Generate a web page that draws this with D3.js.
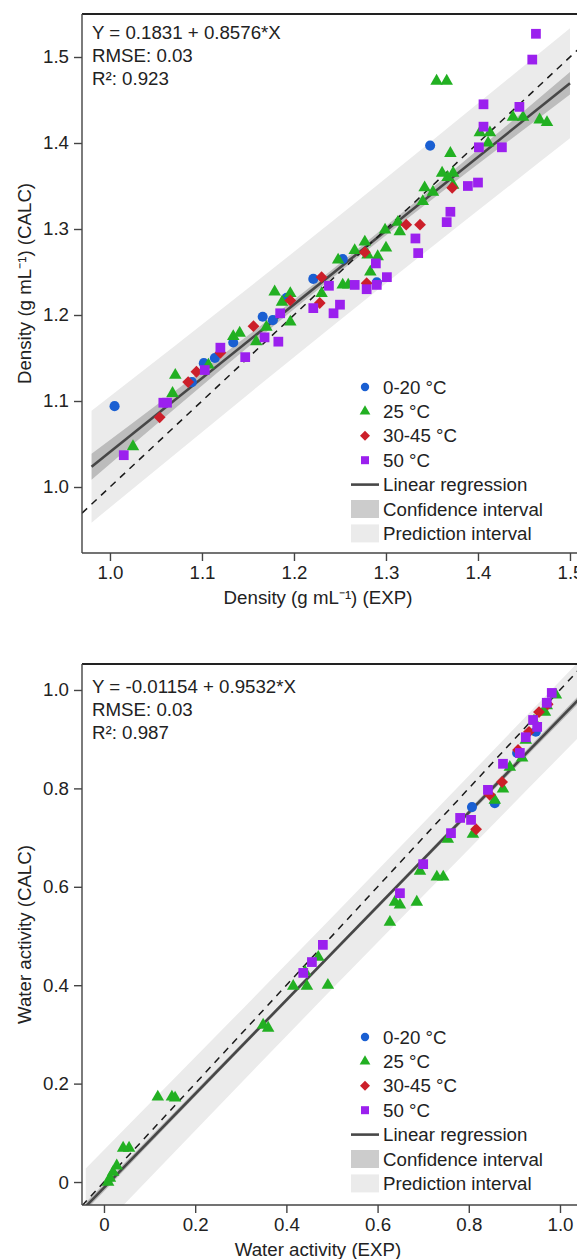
<!DOCTYPE html>
<html>
<head>
<meta charset="utf-8">
<script src="https://cdn.jsdelivr.net/npm/d3@7"></script>
<style>
body { margin: 0; background: #fff; }
svg { display: block; font-family: Arial, "Liberation Sans", Helvetica, sans-serif; }
</style>
</head>
<body>
<svg width="577" height="1259"></svg>
<script>
// ---- density panel (EXP, CALC) ----
var densCold = [[1.005,1.094],[1.089,1.122],[1.102,1.144],[1.114,1.150],[1.134,1.168],[1.166,1.198],[1.177,1.194],[1.192,1.220],[1.221,1.242],[1.253,1.265],[1.290,1.238],[1.348,1.397]];
var dens25 = [[1.025,1.047],[1.068,1.109],[1.071,1.130],[1.107,1.142],[1.134,1.175],[1.141,1.179],[1.159,1.169],[1.170,1.186],[1.179,1.227],[1.187,1.215],[1.196,1.225],[1.196,1.192],[1.230,1.225],[1.248,1.264],[1.253,1.235],[1.259,1.235],[1.266,1.275],[1.277,1.285],[1.280,1.270],[1.283,1.250],[1.291,1.268],[1.299,1.299],[1.300,1.278],[1.313,1.308],[1.315,1.297],[1.340,1.332],[1.342,1.348],[1.351,1.343],[1.361,1.365],[1.367,1.360],[1.373,1.351],[1.370,1.388],[1.373,1.365],[1.355,1.472],[1.366,1.472],[1.402,1.412],[1.411,1.400],[1.413,1.412],[1.438,1.430],[1.449,1.430],[1.467,1.427],[1.475,1.424]];
var dens30 = [[1.054,1.081],[1.085,1.122],[1.094,1.134],[1.120,1.156],[1.156,1.187],[1.196,1.217],[1.228,1.214],[1.230,1.244],[1.277,1.273],[1.279,1.237],[1.322,1.305],[1.337,1.305],[1.372,1.348]];
var dens50 = [[1.015,1.037],[1.058,1.098],[1.062,1.098],[1.103,1.136],[1.120,1.162],[1.147,1.151],[1.168,1.174],[1.183,1.169],[1.185,1.202],[1.221,1.208],[1.238,1.234],[1.243,1.202],[1.250,1.212],[1.266,1.235],[1.279,1.230],[1.289,1.260],[1.290,1.235],[1.301,1.244],[1.332,1.289],[1.335,1.272],[1.366,1.308],[1.370,1.320],[1.389,1.350],[1.400,1.354],[1.401,1.395],[1.406,1.419],[1.406,1.445],[1.426,1.395],[1.445,1.442],[1.459,1.497],[1.463,1.527]];
var densFit = [0.1831, 0.8576];
var densBandX = [0.98, 1.24, 1.50];
var densCIHalf = [0.015, 0.005, 0.013];
var densPIHalf = [0.065, 0.061, 0.064];
var densTicks = [1.0, 1.1, 1.2, 1.3, 1.4, 1.5];
var densText = ["Y = 0.1831 + 0.8576*X", "RMSE: 0.03", "R\u00b2: 0.923"];

// ---- water activity panel ----
var awCold = [[0.807,0.762],[0.857,0.770],[0.906,0.872],[0.947,0.915]];
var aw25 = [[0.009,0.000],[0.013,0.008],[0.020,0.020],[0.028,0.033],[0.042,0.069],[0.055,0.069],[0.118,0.173],[0.149,0.173],[0.156,0.171],[0.349,0.319],[0.360,0.313],[0.415,0.398],[0.441,0.427],[0.445,0.398],[0.470,0.457],[0.491,0.400],[0.627,0.528],[0.638,0.569],[0.649,0.563],[0.686,0.569],[0.693,0.632],[0.730,0.620],[0.744,0.620],[0.754,0.697],[0.809,0.707],[0.857,0.776],[0.875,0.799],[0.890,0.843],[0.917,0.862],[0.925,0.898],[0.943,0.937],[0.967,0.955],[0.971,0.968],[0.991,0.990]];
var aw30 = [[0.816,0.717],[0.846,0.787],[0.873,0.813],[0.908,0.878],[0.932,0.915],[0.954,0.955],[0.973,0.971]];
var aw50 = [[0.437,0.425],[0.456,0.447],[0.480,0.482],[0.649,0.587],[0.700,0.646],[0.761,0.709],[0.781,0.740],[0.805,0.736],[0.842,0.797],[0.875,0.850],[0.912,0.872],[0.925,0.904],[0.941,0.939],[0.950,0.925],[0.971,0.974],[0.982,0.994]];
var awFit = [-0.01154, 0.9532];
var awBandX = [-0.04, 0.5, 1.04];
var awCIHalf = [0.008, 0.004, 0.008];
var awPIHalf = [0.077, 0.073, 0.077];
var awTicks = [0, 0.2, 0.4, 0.6, 0.8, 1.0];
var awText = ["Y = -0.01154 + 0.9532*X", "RMSE: 0.03", "R\u00b2: 0.987"];

var groupNames = ["0-20 \u00b0C", "25 \u00b0C", "30-45 \u00b0C", "50 \u00b0C"];
var groupColors = ["#1a5fd2", "#22b022", "#cc1f2a", "#9b20ee"];
var groupShapes = [d3.symbolCircle, d3.symbolTriangle, d3.symbolSquare, d3.symbolSquare];

var fs = 18.7;
var svg = d3.select("svg");

function drawPanel(p, idx) {
  var g = svg.append("g");
  var x = d3.scaleLinear().domain(p.xDomain).range([82, 579]);
  var y = d3.scaleLinear().domain(p.yDomain).range([p.bottom, p.top]);
  var fit = function(v) { return p.fit[0] + p.fit[1] * v; };

  g.append("clipPath").attr("id", "clip" + idx)
    .append("rect").attr("x", 82).attr("y", p.top).attr("width", 497).attr("height", p.bottom - p.top);
  var plot = g.append("g").attr("clip-path", "url(#clip" + idx + ")");

  var band = function(half) {
    return d3.area()
      .x(function(d, i) { return x(p.bandX[i]); })
      .y0(function(d, i) { return y(fit(p.bandX[i]) - half[i]); })
      .y1(function(d, i) { return y(fit(p.bandX[i]) + half[i]); })
      .curve(d3.curveMonotoneX);
  };
  plot.append("path").datum(p.piHalf).attr("d", band(p.piHalf)).attr("fill", "#ebebeb");
  plot.append("path").datum(p.ciHalf).attr("d", band(p.ciHalf)).attr("fill", "rgba(0,0,0,0.2)");

  var ends = [p.bandX[0], p.bandX[p.bandX.length - 1]];
  plot.append("line")
    .attr("x1", x(ends[0])).attr("y1", y(fit(ends[0])))
    .attr("x2", x(ends[1])).attr("y2", y(fit(ends[1])))
    .attr("stroke", "#474747").attr("stroke-width", 2.6);

  plot.append("line")
    .attr("x1", x(p.xDomain[0])).attr("y1", y(p.xDomain[0]))
    .attr("x2", x(p.xDomain[1])).attr("y2", y(p.xDomain[1]))
    .attr("stroke", "#1a1a1a").attr("stroke-width", 1.5).attr("stroke-dasharray", "7,6");

  p.series.forEach(function(s, k) {
    var sym = d3.symbol().type(groupShapes[k]).size([80, 68, 70, 95][k]);
    plot.append("g").selectAll("path")
      .data(s).enter().append("path")
      .attr("d", sym)
      .attr("transform", function(d) {
        return "translate(" + x(d[0]) + "," + y(d[1]) + ")" + (k === 2 ? " rotate(45)" : "");
      })
      .attr("fill", groupColors[k]);
  });

  // frame
  g.append("line").attr("x1", 82).attr("x2", 579).attr("y1", p.top).attr("y2", p.top)
    .attr("stroke", "#222").attr("stroke-width", 2);

  var xAxis = g.append("g").attr("transform", "translate(0," + p.bottom + ")")
    .call(d3.axisBottom(x).tickValues(p.ticks).tickSize(8).tickPadding(5).tickFormat(p.fmt));
  var yAxis = g.append("g").attr("transform", "translate(82,0)")
    .call(d3.axisLeft(y).tickValues(p.ticks).tickSize(8).tickPadding(5).tickFormat(p.fmt));
  [xAxis, yAxis].forEach(function(a) {
    a.select(".domain").attr("stroke", "#444").attr("stroke-width", 1.4);
    a.selectAll(".tick line").attr("stroke", "#444").attr("stroke-width", 1.4);
    a.selectAll("text").attr("font-size", fs).attr("fill", "#222").attr("font-family", null);
  });
  xAxis.select(".domain").attr("d", "M82,0H579");
  yAxis.select(".domain").attr("d", "M0," + p.top + "V" + p.bottom);

  // axis titles
  g.append("text").attr("x", 318).attr("y", p.bottom + 51)
    .attr("text-anchor", "middle").attr("font-size", fs).attr("fill", "#222").text(p.xTitle);
  g.append("text").attr("transform", "translate(31," + (p.top + p.bottom) / 2 + ") rotate(-90)")
    .attr("text-anchor", "middle").attr("font-size", fs).attr("fill", "#222").text(p.yTitle);

  // fit statistics
  g.selectAll(".stat").data(p.text).enter().append("text")
    .attr("x", 92).attr("y", function(d, i) { return p.top + p.textTop + i * 23; })
    .attr("font-size", fs).attr("fill", "#222").text(function(d) { return d; });

  // legend
  var lg = g.append("g").attr("transform", "translate(365," + (p.top + 373) + ")");
  groupNames.forEach(function(name, k) {
    var sym = d3.symbol().type(groupShapes[k]).size([55, 50, 50, 64][k]);
    lg.append("path").attr("d", sym)
      .attr("transform", "translate(0," + k * 24.4 + ")" + (k === 2 ? " rotate(45)" : ""))
      .attr("fill", groupColors[k]);
  });
  lg.append("line").attr("x1", -14).attr("x2", 14).attr("y1", 4 * 24.4).attr("y2", 4 * 24.4)
    .attr("stroke", "#474747").attr("stroke-width", 2.6);
  lg.append("rect").attr("x", -14).attr("y", 5 * 24.4 - 9).attr("width", 28).attr("height", 18)
    .attr("fill", "#cccccc");
  lg.append("rect").attr("x", -14).attr("y", 6 * 24.4 - 9).attr("width", 28).attr("height", 18)
    .attr("fill", "#ebebeb");
  var labels = groupNames.concat(["Linear regression", "Confidence interval", "Prediction interval"]);
  lg.selectAll(".lab").data(labels).enter().append("text")
    .attr("x", 18).attr("y", function(d, i) { return i * 24.4 + 6.5; })
    .attr("font-size", fs).attr("fill", "#222").text(function(d) { return d; });
}

drawPanel({
  top: 14, bottom: 553,
  xDomain: [0.9696, 1.5098], yDomain: [0.92326, 1.55],
  series: [densCold, dens25, dens30, dens50],
  fit: densFit, bandX: densBandX, ciHalf: densCIHalf, piHalf: densPIHalf,
  ticks: densTicks, fmt: d3.format(".1f"), text: densText, textTop: 25,
  xTitle: "Density (g mL\u207b\u00b9) (EXP)", yTitle: "Density (g mL\u207b\u00b9) (CALC)"
}, 0);

drawPanel({
  top: 664, bottom: 1205,
  xDomain: [-0.0482, 1.0417], yDomain: [-0.0467, 1.0528],
  series: [awCold, aw25, aw30, aw50],
  fit: awFit, bandX: awBandX, ciHalf: awCIHalf, piHalf: awPIHalf,
  ticks: awTicks, fmt: function(d) { return d === 0 ? "0" : d3.format(".1f")(d); }, text: awText, textTop: 29,
  xTitle: "Water activity (EXP)", yTitle: "Water activity (CALC)"
}, 1);
</script>
</body>
</html>
